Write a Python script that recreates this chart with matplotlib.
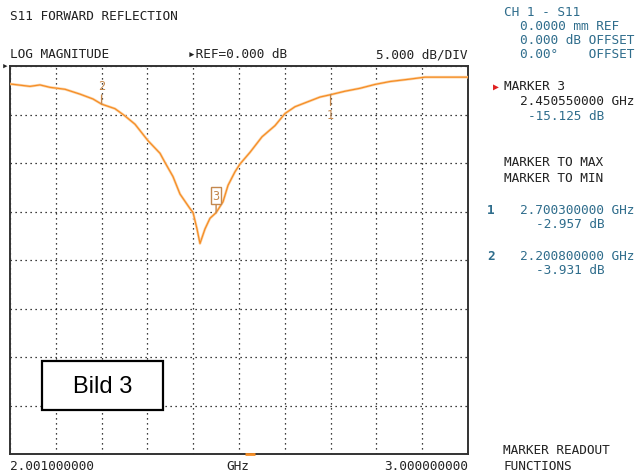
import numpy as np
import matplotlib
matplotlib.use('Agg')
import matplotlib.pyplot as plt
from matplotlib.patches import Rectangle

# trace: frequency (GHz) and S11 (dB)
freq = [2.0010, 2.0446, 2.0664, 2.0882, 2.1210, 2.1537, 2.1820, 2.2008, 2.2300,
        2.2518, 2.2736, 2.3020, 2.3282, 2.3391, 2.3565, 2.3718, 2.3936, 2.4002,
        2.4089, 2.4154, 2.4263, 2.4372, 2.4505, 2.4656, 2.4766, 2.4918, 2.5027,
        2.5245, 2.5507, 2.5790, 2.6008, 2.6226, 2.6554, 2.6772, 2.7003, 2.7317,
        2.7644, 2.7971, 2.8299, 2.8735, 2.9062, 2.9498, 3.0000]
s11 = [-1.85, -2.10, -1.95, -2.20, -2.40, -2.90, -3.40, -3.931, -4.40,
       -5.15, -6.00, -7.70, -9.00, -9.95, -11.40, -13.20, -14.70, -15.10,
       -16.80, -18.30, -16.80, -15.70, -15.125, -14.00, -12.30, -10.90, -10.10,
       -8.90, -7.30, -6.15, -4.90, -4.20, -3.60, -3.20, -2.957, -2.60,
       -2.30, -1.90, -1.60, -1.35, -1.15, -1.15, -1.15]

f_start, f_stop = 2.001, 3.000
ref_db, db_div, n_ydiv, n_xdiv = 0.0, 5.0, 8, 10

markers = {1: (2.7003, -2.957), 2: (2.2008, -3.931), 3: (2.45055, -15.125)}
stim_marker = 2.5245

TEAL = '#2f6d8c'
ORANGE = '#f58d25'
MCOL = '#c4884e'
MONO = 'DejaVu Sans Mono'
FS = 9.2

W, H = 643, 477
fig = plt.figure(figsize=(W / 100, H / 100), dpi=100)
ax = fig.add_axes([10 / W, 1 - 455 / H, 458 / W, 388 / H])

def txt(x, y, s, color='#222222', ha='left', **kw):
    fig.text(x / W, 1 - y / H, s, color=color, ha=ha, va='center',
             family=MONO, fontsize=kw.pop('fontsize', FS), **kw)

ax.set_xlim(f_start, f_stop)
ax.set_ylim(ref_db - n_ydiv * db_div, ref_db)
ax.set_xticks(np.linspace(f_start, f_stop, n_xdiv + 1))
ax.set_yticks(np.arange(ref_db - n_ydiv * db_div, ref_db + 0.1, db_div))
ax.grid(True, color='black', linestyle=(0, (1, 3)), linewidth=0.9)
ax.tick_params(length=0, labelbottom=False, labelleft=False)
for sp in ax.spines.values():
    sp.set_linewidth(1.4)
    sp.set_color('#333333')

ax.plot(freq, s11, color='#fcd3a6', lw=1.9, solid_joinstyle='round', zorder=3)
ax.plot(freq, s11, color=ORANGE, lw=0.9, zorder=4)

# marker annotations
f2, d2 = markers[2]
ax.annotate('2', xy=(f2, d2), xytext=(0, 12), textcoords='offset pixels',
            ha='center', va='bottom', color=MCOL, family=MONO, fontsize=8.5,
            arrowprops=dict(arrowstyle='-', color=MCOL, lw=1, shrinkA=0, shrinkB=0), zorder=5)
f1, d1 = markers[1]
ax.annotate('1', xy=(f1, d1), xytext=(0, -20), textcoords='offset pixels',
            ha='center', va='center', color=MCOL, family=MONO, fontsize=8.5,
            arrowprops=dict(arrowstyle='-', color=MCOL, lw=1, shrinkA=0, shrinkB=0), zorder=5)
f3, d3 = markers[3]
ax.annotate('3', xy=(f3, d3), xytext=(0, 17), textcoords='offset pixels',
            ha='center', va='center', color=MCOL, family=MONO, fontsize=8.5,
            bbox=dict(boxstyle='square,pad=0.15', fc='white', ec=MCOL, lw=1),
            arrowprops=dict(arrowstyle='-', color=MCOL, lw=1, shrinkA=0, shrinkB=0), zorder=5)
ax.plot([stim_marker], [ref_db - n_ydiv * db_div], marker='_', color=ORANGE,
        markersize=7, mew=2, clip_on=False, zorder=6)

# header texts
txt(10, 16, 'S11 FORWARD REFLECTION')
txt(10, 55, 'LOG MAGNITUDE')
txt(188, 55, '\u25b8REF=0.000 dB')
txt(467, 55, '5.000 dB/DIV', ha='right')
txt(2, 67, '\u25b8', fontsize=8)

# bottom texts
txt(10, 467, '2.001000000')
txt(238, 467, 'GHz', ha='center')
txt(468, 467, '3.000000000', ha='right')

# right panel
txt(504, 12, 'CH 1 - S11', color=TEAL)
txt(520, 26, '0.0000 mm REF', color=TEAL)
txt(520, 41, '0.000 dB OFFSET', color=TEAL)
txt(520, 55, '0.00\u00b0    OFFSET', color=TEAL)
txt(493, 87, '\u25b6', color='#e02020', fontsize=7)
txt(504, 87, 'MARKER 3')
txt(520, 102, '2.450550000 GHz')
txt(528, 117, '-15.125 dB', color=TEAL)
txt(504, 163, 'MARKER TO MAX')
txt(504, 178, 'MARKER TO MIN')
txt(487, 210, '1', color=TEAL, fontweight='bold')
txt(520, 210, '2.700300000 GHz', color=TEAL)
txt(536, 225, '-2.957 dB', color=TEAL)
txt(487, 256, '2', color=TEAL, fontweight='bold')
txt(520, 256, '2.200800000 GHz', color=TEAL)
txt(536, 271, '-3.931 dB', color=TEAL)
txt(503, 451, 'MARKER READOUT')
txt(503, 467, 'FUNCTIONS')

# caption box
fig.patches.append(Rectangle((42 / W, 1 - 411 / H), 121 / W, 49 / H,
                             transform=fig.transFigure, fc='white', ec='black',
                             lw=1.6, zorder=10))
fig.text(103 / W, 1 - 387 / H, 'Bild 3', ha='center', va='center',
         family='Liberation Sans', fontsize=17, color='black', zorder=11)

fig.savefig('out.png', dpi=100)
